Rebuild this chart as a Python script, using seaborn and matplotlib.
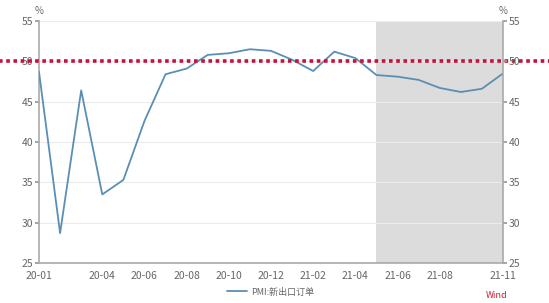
import matplotlib
matplotlib.use("Agg")
import matplotlib.pyplot as plt
import seaborn as sns
import pandas as pd
import numpy as np

months = ["20-01","20-02","20-03","20-04","20-05","20-06","20-07","20-08","20-09","20-10",
          "20-11","20-12","21-01","21-02","21-03","21-04","21-05","21-06","21-07","21-08",
          "21-09","21-10","21-11"]
values = [48.7, 28.7, 46.4, 33.5, 35.3, 42.6, 48.4, 49.1, 50.8, 51.0,
          51.5, 51.3, 50.2, 48.8, 51.2, 50.4, 48.3, 48.1, 47.7, 46.7,
          46.2, 46.6, 48.5]
shade_start = "21-05"
shade_end = "21-11"
ref_level = 50
label_months = ["20-01","20-04","20-06","20-08","20-10","20-12","21-02","21-04","21-06","21-08","21-11"]
yticks = [25, 30, 35, 40, 45, 50, 55]
series_name = "PMI:新出口订单"

sns.set_theme(style="white")
plt.rcParams['font.family'] = ['Noto Sans CJK SC', 'DejaVu Sans']

df = pd.DataFrame({"idx": np.arange(len(months)), "month": months, "value": values})

fig = plt.figure(figsize=(5.49, 3.03), dpi=100)
ax = fig.add_axes([39/549, 1-263/303, (503-39)/549, (263-21)/303])

gray = "#666666"
ax.axvspan(months.index(shade_start), months.index(shade_end), color="#dcdcdc", zorder=0, lw=0)
for yv in yticks:
    ax.axhline(yv, color="#ececec", lw=0.8, zorder=0.5)

sns.lineplot(data=df, x="idx", y="value", ax=ax, color="#5a8fb5", lw=1.3, label=series_name, zorder=3)

ax.set_xlim(0, len(months) - 1)
ax.set_ylim(25, 55)
ax.set_yticks(yticks)
ax.set_yticklabels([str(v) for v in yticks], color=gray, fontsize=7.5)
ax.set_xticks(np.arange(len(months)), minor=True)
ax.set_xticks([months.index(m) for m in label_months])
ax.set_xticklabels(label_months, color=gray, fontsize=7.5)
ax.tick_params(axis="x", which="both", length=3, color="#999999", direction="out", pad=3)
ax.tick_params(axis="y", length=3, color="#999999", direction="out", pad=1)
ax.set_xlabel("")
ax.set_ylabel("")
for s in ["top", "right"]:
    ax.spines[s].set_visible(False)
for s in ["left", "bottom"]:
    ax.spines[s].set_color("#aaaaaa")
    ax.spines[s].set_linewidth(1.2)

ax2 = ax.twinx()
ax2.set_ylim(25, 55)
ax2.set_yticks(yticks)
ax2.set_yticklabels([str(v) for v in yticks], color=gray, fontsize=7.5)
ax2.tick_params(axis="y", length=3, color="#999999", direction="out", pad=1)
for s in ["top", "left", "bottom"]:
    ax2.spines[s].set_visible(False)
ax2.spines["right"].set_color("#aaaaaa")
ax2.spines["right"].set_linewidth(1.2)

ax.text(0, 1.02, "%", transform=ax.transAxes, color=gray, fontsize=7, ha="center", va="bottom")
ax.text(1, 1.02, "%", transform=ax.transAxes, color=gray, fontsize=7, ha="center", va="bottom")

# red dotted reference line across full figure width
ax.plot([-0.1, 1.1], [ref_level, ref_level], transform=ax.get_yaxis_transform(), color="#c8103a",
        ls=(0, (1, 1)), lw=2.6, zorder=5, clip_on=False)

leg = ax.legend(loc="center", bbox_to_anchor=(0.5, -29/242), frameon=False, fontsize=6.5,
                handlelength=2.2, labelcolor=gray, borderpad=0, handletextpad=0.5)

fig.text(497/549, 1-296/303, "Wind", color="#d02030", fontsize=6.5, ha="center", va="center")

fig.savefig("out.png", dpi=100)
